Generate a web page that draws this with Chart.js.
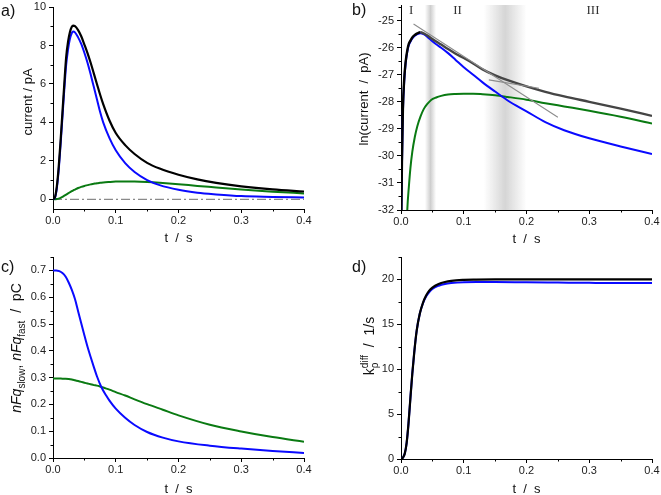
<!DOCTYPE html>
<html>
<head>
<meta charset="utf-8">
<script src="https://cdn.jsdelivr.net/npm/chart.js@4/dist/chart.umd.min.js"></script>
<style>
html, body { margin: 0; padding: 0; background: #fff; }
#wrap { position: relative; width: 661px; height: 495px; overflow: hidden; }
#wrap canvas { position: absolute; }
.tag { position: absolute; font: 16px 'Liberation Sans', Arial, sans-serif; color: #111; line-height: 18px; }
</style>
</head>
<body>
<div id="wrap">
  <canvas id="chA" style="left:0;top:0"></canvas>
  <canvas id="chB" style="left:330px;top:0"></canvas>
  <canvas id="chC" style="left:0;top:245px"></canvas>
  <canvas id="chD" style="left:330px;top:245px"></canvas>
  <div class="tag" style="left:1px;top:2px">a)</div>
  <div class="tag" style="left:352px;top:1px">b)</div>
  <div class="tag" style="left:1px;top:258px">c)</div>
  <div class="tag" style="left:352px;top:258px">d)</div>
</div>
<script>
// ---- data ----
const tTicks = [0, 0.1, 0.2, 0.3, 0.4];

// a) currents, pA
const tA = [0, 0.003, 0.006, 0.009, 0.012, 0.015, 0.018, 0.021, 0.024, 0.027, 0.03, 0.032, 0.035, 0.04, 0.045, 0.05, 0.055, 0.06, 0.065, 0.07, 0.075, 0.08, 0.09, 0.1, 0.115, 0.13, 0.15, 0.17, 0.2, 0.23, 0.26, 0.3, 0.35, 0.4];
const totalA = [0, 0.1, 0.65, 1.65, 3.0, 4.5, 6.0, 7.4, 8.2, 8.7, 8.97, 9.03, 9.0, 8.8, 8.48, 8.05, 7.6, 7.1, 6.55, 6.0, 5.45, 4.95, 4.1, 3.45, 2.82, 2.36, 1.9, 1.6, 1.28, 1.04, 0.86, 0.68, 0.52, 0.41];
const fastA = [0, 0.08, 0.55, 1.5, 2.8, 4.25, 5.7, 7.0, 7.8, 8.35, 8.65, 8.72, 8.68, 8.42, 8.08, 7.62, 7.1, 6.5, 5.85, 5.2, 4.55, 4.0, 3.18, 2.55, 1.88, 1.42, 1.0, 0.74, 0.5, 0.35, 0.26, 0.17, 0.13, 0.10];
const slowA = [0, 0.003, 0.015, 0.04, 0.08, 0.13, 0.19, 0.25, 0.31, 0.37, 0.43, 0.46, 0.51, 0.59, 0.65, 0.7, 0.74, 0.78, 0.81, 0.84, 0.86, 0.88, 0.905, 0.925, 0.935, 0.93, 0.905, 0.865, 0.79, 0.70, 0.62, 0.51, 0.40, 0.31];
const zeroT = [0, 0.4];
const zeroV = [0, 0];
const yTicksA = [0, 2, 4, 6, 8, 10];

// b) ln(current)
const tB = [0, 0.0015, 0.003, 0.005, 0.0075, 0.01, 0.0125, 0.015, 0.018, 0.022, 0.026, 0.031, 0.036, 0.042, 0.048, 0.056, 0.064, 0.075, 0.087, 0.1, 0.115, 0.13, 0.15, 0.17, 0.2, 0.23, 0.26, 0.3, 0.35, 0.4];
const lnTotalB = [-33.5, -30.2, -28.3, -27.2, -26.5, -26.1, -25.85, -25.74, -25.62, -25.53, -25.47, -25.43, -25.47, -25.55, -25.65, -25.77, -25.88, -26.05, -26.22, -26.38, -26.58, -26.8, -27.02, -27.2, -27.43, -27.63, -27.8, -28.0, -28.25, -28.52];
const lnFastB = [-33.6, -30.4, -28.4, -27.3, -26.55, -26.15, -25.9, -25.78, -25.66, -25.56, -25.5, -25.46, -25.5, -25.6, -25.72, -25.87, -26.0, -26.2, -26.45, -26.72, -27.0, -27.28, -27.62, -27.95, -28.35, -28.75, -29.05, -29.35, -29.65, -29.93];
const lnSlowB = [null, null, null, null, -33.8, -32.0, -31.15, -30.45, -29.85, -29.3, -28.9, -28.55, -28.28, -28.08, -27.93, -27.84, -27.78, -27.73, -27.71, -27.70, -27.70, -27.72, -27.76, -27.82, -27.92, -28.05, -28.17, -28.33, -28.55, -28.8];
const fitT1 = [0.02, 0.25];
const fitV1 = [-25.12, -28.57];
const fitT2 = [0.14, 0.22];
const fitV2 = [-27.19, -27.5];
const bandCenters = [0.047, 0.166];
const bandHalfWidths = [0.009, 0.034];
const bandAlphas = [0.42, 0.36];
const regionNames = ['I', 'II', 'III'];
const regionT = [0.016, 0.09, 0.306];
const yTicksB = [-32, -31, -30, -29, -28, -27, -26, -25];

// c) charges, pC
const tC = [0, 0.005, 0.01, 0.015, 0.02, 0.025, 0.03, 0.035, 0.04, 0.045, 0.05, 0.055, 0.06, 0.065, 0.07, 0.077, 0.085, 0.09, 0.1, 0.115, 0.13, 0.15, 0.175, 0.2, 0.25, 0.3, 0.35, 0.4];
const qFastC = [0.70, 0.70, 0.697, 0.69, 0.677, 0.655, 0.627, 0.593, 0.548, 0.503, 0.458, 0.415, 0.377, 0.34, 0.305, 0.265, 0.232, 0.214, 0.184, 0.15, 0.123, 0.097, 0.076, 0.062, 0.046, 0.035, 0.026, 0.019];
const qSlowC = [0.297, 0.297, 0.297, 0.296, 0.296, 0.295, 0.293, 0.29, 0.287, 0.284, 0.281, 0.278, 0.275, 0.272, 0.27, 0.265, 0.259, 0.255, 0.246, 0.233, 0.219, 0.201, 0.18, 0.159, 0.124, 0.099, 0.078, 0.061];
const yTicksC = [0, 0.1, 0.2, 0.3, 0.4, 0.5, 0.6, 0.7];

// d) k_rho^diff, 1/s
const tD = [0, 0.003, 0.006, 0.009, 0.012, 0.015, 0.018, 0.021, 0.025, 0.03, 0.035, 0.04, 0.045, 0.05, 0.06, 0.07, 0.08, 0.1, 0.12, 0.15, 0.2, 0.25, 0.3, 0.35, 0.4];
const kTotalD = [0, 0.15, 0.6, 1.8, 4.0, 6.8, 9.5, 11.8, 14.3, 16.2, 17.4, 18.2, 18.75, 19.1, 19.5, 19.72, 19.85, 19.95, 19.98, 20.0, 20.0, 20.0, 20.0, 20.0, 20.0];
const kFastD = [0, 0.15, 0.6, 1.8, 4.0, 6.8, 9.5, 11.8, 14.3, 16.2, 17.35, 18.1, 18.6, 18.95, 19.3, 19.5, 19.6, 19.7, 19.72, 19.72, 19.68, 19.65, 19.62, 19.6, 19.6];
const yTicksD = [0, 5, 10, 15, 20];

// ---- helpers ----
const FONT = "'Liberation Sans', Arial, Helvetica, sans-serif";
Chart.defaults.font.family = FONT;
Chart.defaults.color = '#222';

const BLUE = '#0a0aff', GREEN = '#0a7a12', BLACK = '#000';

function xy(ts, vs) {
    const out = [];
    ts.forEach((t, i) => { if (vs[i] !== null) out.push({ x: t, y: vs[i] }); });
    return out;
}

function curve(data, color, width, extra) {
    return Object.assign({ data, borderColor: color, borderWidth: width, pointRadius: 0, fill: false,
        cubicInterpolationMode: 'monotone' }, extra || {});
}

function minorsOf(majors, max) {
    const step = majors[1] - majors[0];
    const out = majors.slice(1).map((v, i) => (v + majors[i]) / 2);
    const top = majors[majors.length - 1] + step / 2;
    if (top <= max + 1e-9) out.push(top);
    return out;
}

function axis(min, max, majors, fmt, fixed, horiz) {
    return {
        type: 'linear', min, max,
        grid: { drawOnChartArea: false, drawTicks: true, tickLength: 4, color: '#000' },
        border: { display: true, color: '#000', width: 1 },
        ticks: { autoSkip: false, maxRotation: 0, padding: horiz ? 1 : 3, color: '#222', font: { size: 11 }, callback: v => fmt(v) },
        afterBuildTicks: s => { s.ticks = majors.map(v => ({ value: v })); },
        afterFit: s => {
            if (horiz) { s.height = fixed; s.paddingLeft = 0; s.paddingRight = 0; }
            else { s.width = fixed; s.paddingTop = 0; s.paddingBottom = 0; }
        }
    };
}

function drawRich(ctx, segs, cx, cy, size) {
    const small = Math.round(size * 0.68);
    const fontOf = s => (s.it ? 'italic ' : '') + (s.sub || s.sup ? small : size) + 'px ' + FONT;
    let total = 0, prevW = 0;
    const laid = segs.map(s => {
        ctx.font = fontOf(s);
        const w = ctx.measureText(s.t).width;
        let x;
        if (s.stack) { x = total - prevW; total = x + Math.max(w, prevW); }
        else { x = total; total += w; }
        prevW = w;
        return { s, x };
    });
    ctx.save();
    ctx.translate(cx, cy);
    ctx.rotate(-Math.PI / 2);
    ctx.textAlign = 'left';
    ctx.textBaseline = 'alphabetic';
    laid.forEach(({ s, x }) => {
        ctx.font = fontOf(s);
        const dy = s.sub ? size * 0.3 : s.sup ? -size * 0.42 : 0;
        ctx.fillText(s.t, x - total / 2, dy + size * 0.35);
    });
    ctx.restore();
}

const decor = {
    id: 'decor',
    afterDraw(chart, args, o) {
        const ctx = chart.ctx, a = chart.chartArea, xs = chart.scales.x, ys = chart.scales.y;
        ctx.save();
        // minor ticks
        ctx.strokeStyle = '#000';
        ctx.lineWidth = 1;
        minorsOf(tTicks, 0.4).forEach(v => {
            const p = Math.round(xs.getPixelForValue(v)) + 0.5;
            ctx.beginPath(); ctx.moveTo(p, a.bottom); ctx.lineTo(p, a.bottom + 2.5); ctx.stroke();
        });
        minorsOf(o.yMajors, ys.max).forEach(v => {
            const p = Math.round(ys.getPixelForValue(v)) + 0.5;
            ctx.beginPath(); ctx.moveTo(a.left, p); ctx.lineTo(a.left - 2.5, p); ctx.stroke();
        });
        // axis titles
        ctx.fillStyle = '#111';
        ctx.font = '13px ' + FONT;
        ctx.textAlign = 'center';
        ctx.textBaseline = 'middle';
        ctx.fillText('t  /  s', (a.left + a.right) / 2, a.bottom + o.xGap);
        drawRich(ctx, o.ySegs, o.yX, o.yY, o.ySize);
        ctx.restore();
    }
};

const bands = {
    id: 'bands',
    beforeDatasetsDraw(chart) {
        const ctx = chart.ctx, a = chart.chartArea, xs = chart.scales.x;
        ctx.save();
        bandCenters.forEach((c, i) => {
            const l = xs.getPixelForValue(c - bandHalfWidths[i]);
            const r = xs.getPixelForValue(c + bandHalfWidths[i]);
            const g = ctx.createLinearGradient(l, 0, r, 0);
            g.addColorStop(0, 'rgba(140,140,140,0)');
            g.addColorStop(0.5, 'rgba(140,140,140,' + bandAlphas[i] + ')');
            g.addColorStop(1, 'rgba(140,140,140,0)');
            ctx.fillStyle = g;
            ctx.fillRect(l, a.top, r - l, a.bottom - a.top);
        });
        ctx.restore();
    },
    afterDraw(chart) {
        const ctx = chart.ctx, xs = chart.scales.x, ys = chart.scales.y;
        ctx.save();
        ctx.fillStyle = '#333';
        ctx.font = "13px 'Liberation Serif', 'DejaVu Serif', serif";
        ctx.textAlign = 'center';
        ctx.textBaseline = 'middle';
        regionNames.forEach((n, i) => ctx.fillText(n, xs.getPixelForValue(regionT[i]), ys.getPixelForValue(-24.64)));
        ctx.restore();
    }
};

function makeChart(id, w, h, area, yMin, yMax, yMajors, yFmt, datasets, decorOpts, extra) {
    const cv = document.getElementById(id);
    cv.width = w; cv.height = h;
    return new Chart(cv, {
        type: 'line',
        data: { datasets },
        options: {
            responsive: false, animation: false, devicePixelRatio: 1,
            layout: { padding: { left: 0, top: area.top, right: w - area.right, bottom: 0 } },
            scales: {
                x: axis(0, 0.4, tTicks, v => v.toFixed(1), h - area.bottom, true),
                y: axis(yMin, yMax, yMajors, yFmt, area.left, false)
            },
            plugins: { legend: { display: false }, tooltip: { enabled: false },
                decor: Object.assign({ yMajors }, decorOpts) }
        },
        plugins: [decor].concat(extra || [])
    });
}

// a) currents
makeChart('chA', 330, 245, { left: 53, right: 304, top: 7, bottom: 209 }, -0.5, 10, yTicksA, v => String(v), [
    curve(xy(tA, totalA), BLACK, 2.2),
    curve(xy(tA, fastA), BLUE, 2),
    curve(xy(tA, slowA), GREEN, 2),
    curve(xy(zeroT, zeroV), '#8a8a8a', 1.4, { borderDash: [9, 3, 2, 3] })
], { xGap: 29, yX: 27, yY: 102, ySize: 13, ySegs: [{ t: 'current / pA' }] });

// b) ln(current)
makeChart('chB', 331, 245, { left: 71, right: 322, top: 5, bottom: 210 }, -32, -24.42, yTicksB, v => String(v), [
    curve(xy(fitT1, fitV1), '#8c8c8c', 1.1),
    curve(xy(fitT2, fitV2), '#8c8c8c', 1.1),
    curve(xy(tB, lnTotalB), BLACK, 2.4, { segment: { borderColor: c => c.p0.parsed.x >= 0.03 ? '#454545' : '#000' } }),
    curve(xy(tB, lnFastB), BLUE, 2),
    curve(xy(tB, lnSlowB), GREEN, 2)
], { xGap: 29, yX: 33, yY: 99, ySize: 13, ySegs: [{ t: 'ln(current  /  pA)' }] }, [bands]);

// c) charges
makeChart('chC', 330, 250, { left: 53, right: 304, top: 12, bottom: 213 }, 0, 0.75, yTicksC, v => v.toFixed(1), [
    curve(xy(tC, qFastC), BLUE, 2),
    curve(xy(tC, qSlowC), GREEN, 2)
], { xGap: 31, yX: 16, yY: 103, ySize: 14, ySegs: [
    { t: 'nFq', it: true }, { t: 'slow', sub: true }, { t: ', ' },
    { t: 'nFq', it: true }, { t: 'fast', sub: true }, { t: '  /  pC' }
] });

// d) rate constant
makeChart('chD', 331, 250, { left: 71, right: 322, top: 12, bottom: 214 }, 0, 22.5, yTicksD, v => String(v), [
    curve(xy(tD, kTotalD), BLACK, 2.2),
    curve(xy(tD, kFastD), BLUE, 2)
], { xGap: 30, yX: 39, yY: 101, ySize: 14, ySegs: [
    { t: 'k' }, { t: 'ρ', sub: true }, { t: 'diff', sup: true, stack: true }, { t: '  /  1/s' }
] });
</script>
</body>
</html>
